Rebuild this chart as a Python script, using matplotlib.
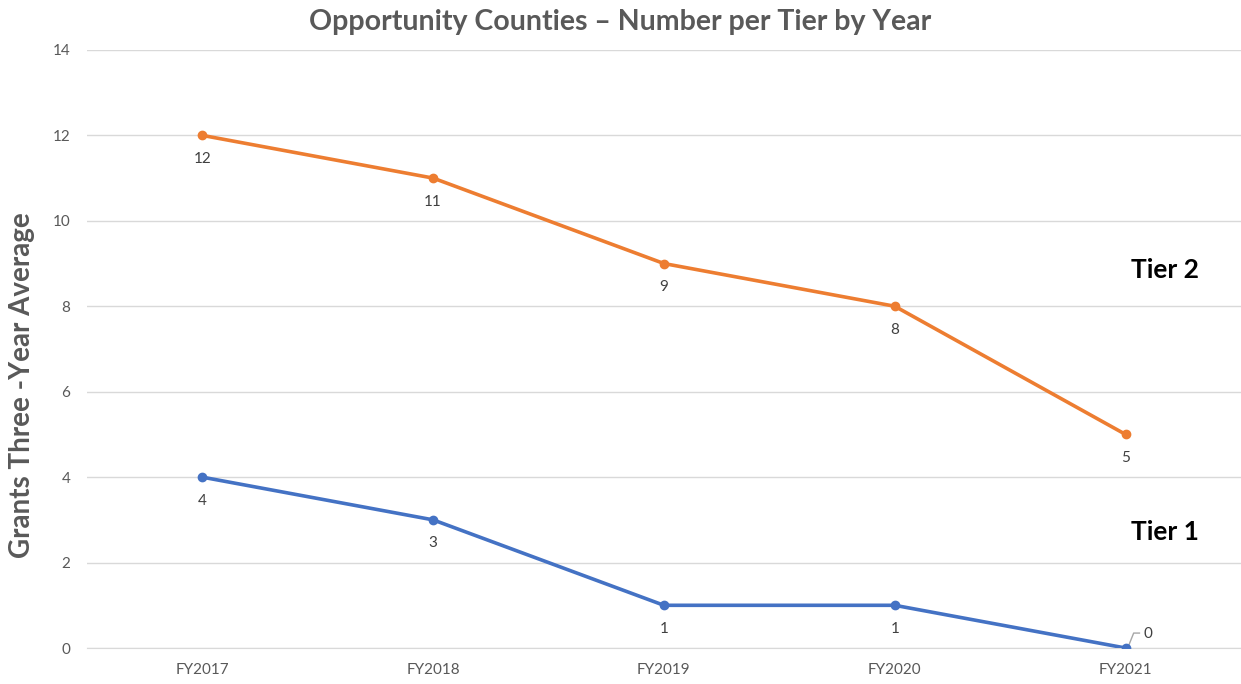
import matplotlib
matplotlib.use('Agg')
import matplotlib.pyplot as plt

years = ['FY2017', 'FY2018', 'FY2019', 'FY2020', 'FY2021']
tier2 = [12, 11, 9, 8, 5]
tier1 = [4, 3, 1, 1, 0]

plt.rcParams['font.family'] = ['Lato', 'DejaVu Sans']

fig = plt.figure(figsize=(12.41, 6.84), dpi=100)
ax = fig.add_axes([0.070, 0.0526, 0.930, 0.8744])

x = list(range(len(years)))
ax.plot(x, tier2, color='#ED7D31', lw=2.6, marker='o', ms=6, zorder=3)
ax.plot(x, tier1, color='#4472C4', lw=2.6, marker='o', ms=6, zorder=3)

for i in x:
    ax.annotate(str(tier2[i]), (i, tier2[i]), xytext=(0, -17), textcoords='offset points',
                ha='center', va='center', fontsize=11, color='#404040')
    if tier1[i] == 0:
        ax.annotate(str(tier1[i]), (i, tier1[i]), xytext=(16, 10), textcoords='offset points',
                    ha='center', va='center', fontsize=11, color='#404040')
        ax.plot([i + 0.015, i + 0.035, i + 0.06], [0.08, 0.35, 0.35], color='#A6A6A6', lw=1, zorder=2)
    else:
        ax.annotate(str(tier1[i]), (i, tier1[i]), xytext=(0, -17), textcoords='offset points',
                    ha='center', va='center', fontsize=11, color='#404040')

ax.set_xlim(-0.5, 4.5)
ax.set_ylim(0, 14)
ax.set_yticks(range(0, 15, 2))
ax.set_xticks(x)
ax.set_xticklabels(years)
ax.grid(axis='y', color='#D9D9D9', lw=1)
ax.set_axisbelow(True)
for s in ['top', 'right', 'left']:
    ax.spines[s].set_visible(False)
ax.spines['bottom'].set_color('#D9D9D9')
ax.tick_params(length=0, labelsize=11, colors='#595959')
ax.tick_params(axis='y', pad=12)
ax.tick_params(axis='x', pad=11)

fig.text(22 / 1241, 1 - 385 / 684, 'Grants Three -Year Average', rotation=90, ha='center', va='center',
         fontsize=20, fontweight='bold', color='#595959')
fig.text(0.5, 0.968, 'Opportunity Counties \u2013 Number per Tier by Year', ha='center', va='center',
         fontsize=20.5, fontweight='bold', color='#595959')

ax.text(4.17, 8.85, 'Tier 2', ha='center', va='center', fontsize=19, fontweight='bold', color='black')
ax.text(4.17, 2.72, 'Tier 1', ha='center', va='center', fontsize=19, fontweight='bold', color='black')

fig.savefig('out.png', dpi=100)
